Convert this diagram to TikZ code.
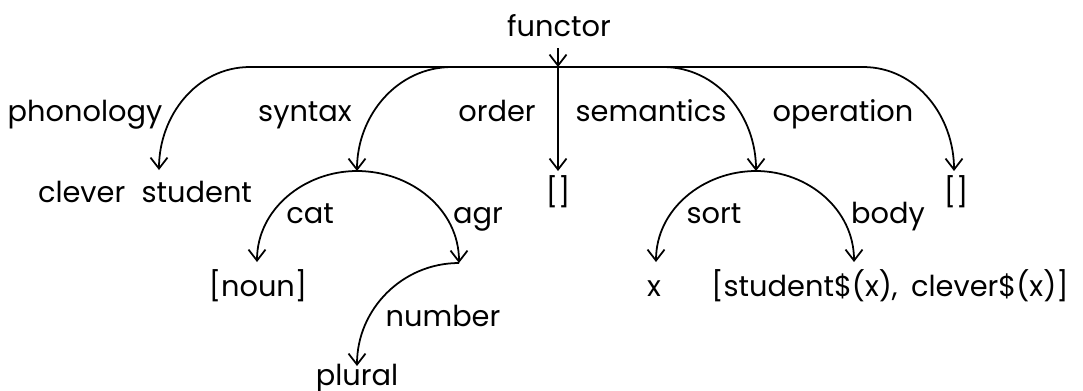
\documentclass[tikz,border=0pt]{standalone}
\usepackage{fontspec}
\setmainfont{Poppins}
\usetikzlibrary{arrows.meta}
\begin{document}
\begin{tikzpicture}[x=0.01cm,y=-0.01cm,
  lbl/.style={anchor=base,inner sep=0pt,font=\fontsize{8.2}{10}\selectfont},
  edge/.style={line width=0.5pt},
  arr/.style={edge,-{Straight Barb[length=0.11cm,width=0.17cm,line width=0.5pt]}}]
\useasboundingbox (0,0) rectangle (1083,390);
% labels
\node[lbl] (functor) at (559,36) {functor};
\node[lbl] (phon) at (85,121) {phonology};
\node[lbl] (syn) at (305,121) {syntax};
\node[lbl] (ord) at (497,121) {order};
\node[lbl] (sem) at (651,121) {semantics};
\node[lbl] (op) at (843,121) {operation};
\node[lbl] (clever) at (145,202) {clever\hspace{0.3em} student};
\node[lbl] (ordv) at (558,202) {[]};
\node[lbl] (opv) at (956,202) {[]};
\node[lbl] (cat) at (310,223) {cat};
\node[lbl] (agr) at (478,223) {agr};
\node[lbl] (noun) at (258,296) {[noun]};
\node[lbl] (sort) at (714,223) {sort};
\node[lbl] (body) at (888,223) {body};
\node[lbl] (xv) at (654,296) {x};
\node[lbl] (bodyv) at (890,296) {[student\$(x),\hspace{0.2em} clever\$(x)]};
\node[lbl] (num) at (443,326) {number};
\node[lbl] (plural) at (357,385) {plural};
% coordinates
\coordinate (ftop) at (558,48);
\coordinate (froot) at (558,67);
\coordinate (hl) at (250,67);
\coordinate (hr) at (863,67);
\coordinate (synstart) at (452,67);
\coordinate (semstart) at (663,67);
\coordinate (phontip) at (159,170);
\coordinate (syntip) at (357,171);
\coordinate (ordtip) at (558,171);
\coordinate (semtip) at (756,171);
\coordinate (optip) at (954,171);
\coordinate (cattip) at (257,262);
\coordinate (agrtip) at (459,263);
\coordinate (sorttip) at (656,262);
\coordinate (bodytip) at (854,262);
\coordinate (numtip) at (357,366);
% edges
\draw[arr] (ftop) -- (froot);
\draw[edge] (hl) -- (hr);
\draw[arr] (froot) -- (ordtip);
\draw[arr] (hl) to[out=180,in=90] (phontip);
\draw[arr] (synstart) to[out=180,in=90] (syntip);
\draw[arr] (semstart) to[out=0,in=90] (semtip);
\draw[arr] (hr) to[out=0,in=90] (optip);
\draw[arr] (syntip) to[out=180,in=90] (cattip);
\draw[arr] (syntip) to[out=0,in=90] (agrtip);
\draw[arr] (agrtip) to[out=180,in=90] (numtip);
\draw[arr] (semtip) to[out=180,in=90] (sorttip);
\draw[arr] (semtip) to[out=0,in=90] (bodytip);
\end{tikzpicture}
\end{document}
